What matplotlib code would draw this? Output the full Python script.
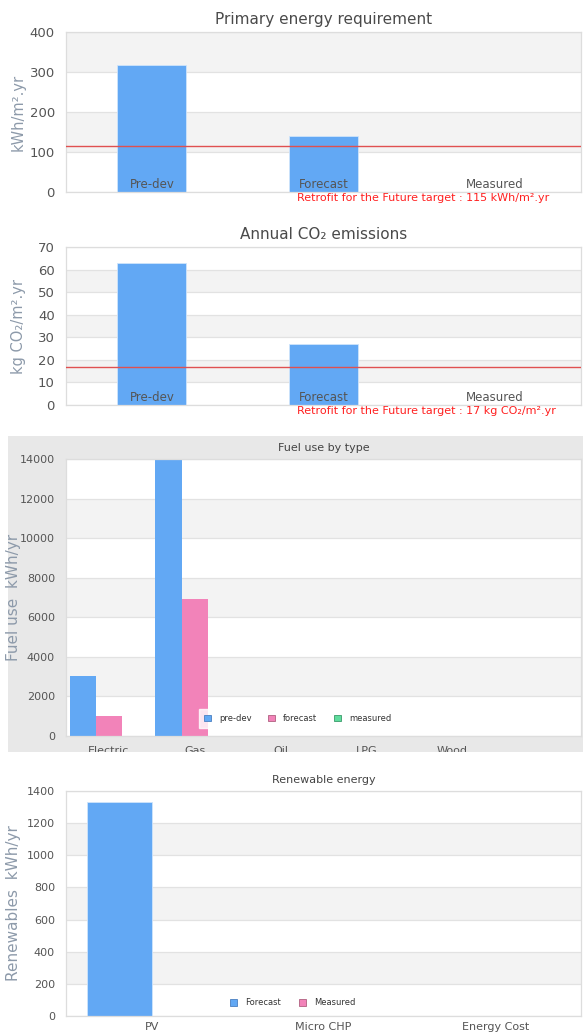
import matplotlib
matplotlib.use("Agg")
import matplotlib.pyplot as plt
from matplotlib.patches import Patch, Rectangle
import numpy as np

plt.rcParams['font.family'] = ['DejaVu Sans']

# ---- data ----
stage_labels = ["Pre-dev", "Forecast", "Measured"]
primary_energy = [318, 140, 0]
primary_target = 115
co2_emissions = [63, 27, 0]
co2_target = 17

fuel_types = ["Electric", "Gas", "Oil", "LPG", "Wood", ""]
fuel_predev = [3030, 14000, 0, 0, 0, 0]
fuel_forecast = [1000, 6900, 0, 0, 0, 0]
fuel_measured = [0, 0, 0, 0, 0, 0]

renew_types = ["PV", "Micro CHP", "Energy Cost"]
renew_forecast = [1330, 0, 0]
renew_measured = [0, 0, 0]

BLUE = "#62a8f4"
PINK = "#f283b9"
GREEN = "#5fdc9d"
GRID = "#e2e2e2"
BAND = "#f3f3f3"
TICK = "#555555"
YLAB = "#8d9aaa"

W, H = 587, 1036
fig = plt.figure(figsize=(W / 100, H / 100), dpi=100)
fig.patch.set_facecolor("white")


def ax_at(x0, y0, x1, y1):
    return fig.add_axes([x0 / W, 1 - y1 / H, (x1 - x0) / W, (y1 - y0) / H])


def style(ax, ymax, step, gray_first_from_top, fs):
    ax.set_ylim(0, ymax)
    ticks = np.arange(0, ymax + step / 2, step)
    ax.set_yticks(ticks)
    nb = len(ticks) - 1
    for i in range(nb):
        top = ymax - i * step
        gray = (i % 2 == 0) == gray_first_from_top
        if gray:
            ax.axhspan(top - step, top, color=BAND, zorder=0, lw=0)
    for t in ticks:
        ax.axhline(t, color=GRID, lw=0.9, zorder=0.5)
    for s in ax.spines.values():
        s.set_color("#dddddd")
        s.set_linewidth(0.9)
    ax.tick_params(axis="y", length=0, labelsize=fs, colors=TICK, pad=8)
    ax.tick_params(axis="x", length=0)
    ax.set_facecolor("white")


def stage_panel(y0, y1, vals, target, ymax, step, title, ylabel, tgt_text, gray_top):
    ax = ax_at(66, y0, 581, y1)
    style(ax, ymax, step, gray_top, 9.5)
    x = np.arange(len(stage_labels))
    ax.bar(x, vals, width=0.4, color=BLUE, edgecolor="#cfe4fb", linewidth=0.6, zorder=2)
    ax.set_xlim(-0.5, len(stage_labels) - 0.5)
    ax.set_xticks([])
    ax.axhline(target, color="#e05050", lw=1.0, zorder=3)
    for i, lab in enumerate(stage_labels):
        ax.text(i, 0.045, lab, transform=ax.get_xaxis_transform(), ha="center", va="center",
                fontsize=8.5, color="#555555", zorder=4)
    ax.text(0.4485, -0.04, tgt_text, transform=ax.transAxes, ha="left", va="center",
            fontsize=8, color="#ff2020")
    ax.set_title(title, fontsize=11, color="#4a4a4a", pad=6)
    ax.set_ylabel(ylabel, fontsize=10.5, color=YLAB)
    ax.yaxis.set_label_coords(-0.078, 0.5)
    return ax


stage_panel(32, 192, primary_energy, primary_target, 400, 100,
            "Primary energy requirement", "kWh/m².yr",
            "Retrofit for the Future target : 115 kWh/m².yr", True)
stage_panel(247, 405, co2_emissions, co2_target, 70, 10,
            "Annual CO₂ emissions", "kg CO₂/m².yr",
            "Retrofit for the Future target : 17 kg CO₂/m².yr", False)

# ---- Fuel use panel ----
fig.patches.append(Rectangle((8 / W, 1 - 752 / H), 575 / W, 316 / H,
                             transform=fig.transFigure, facecolor="#e8e8e8",
                             edgecolor="none", zorder=-1))
ax3 = ax_at(66, 459, 581, 736)
style(ax3, 14000, 2000, False, 8)
x = np.arange(len(fuel_types))
bw = 0.305
ax3.bar(x - bw, fuel_predev, width=bw, color=BLUE, zorder=2)
ax3.bar(x, fuel_forecast, width=bw, color=PINK, zorder=2)
ax3.bar(x + bw, fuel_measured, width=bw, color=GREEN, zorder=2)
ax3.set_xlim(-0.5, len(fuel_types) - 0.5)
ax3.set_xticks(x)
ax3.set_xticklabels(fuel_types, fontsize=8, color=TICK)
ax3.tick_params(axis="x", pad=7)
ax3.set_title("Fuel use by type", fontsize=8, color="#444444", pad=6)
ax3.set_ylabel("Fuel use  kWh/yr", fontsize=11, color=YLAB)
ax3.yaxis.set_label_coords(-0.087, 0.5)
h3 = [Patch(facecolor=BLUE, edgecolor="#4a7fc0", lw=0.6),
      Patch(facecolor=PINK, edgecolor="#b06080", lw=0.6),
      Patch(facecolor=GREEN, edgecolor="#3a9a6a", lw=0.6)]
leg3 = ax3.legend(h3, ["pre-dev", "forecast", "measured"], loc="lower left",
                  bbox_to_anchor=(0.258, 0.03), ncol=3, fontsize=6, frameon=True,
                  handlelength=0.8, handleheight=0.8, columnspacing=2.0, handletextpad=1.0,
                  borderaxespad=0, fancybox=False, borderpad=0.6)
leg3.get_frame().set_facecolor("white")
leg3.get_frame().set_edgecolor("white")
leg3.set_zorder(5)
for t in leg3.get_texts():
    t.set_color("#333333")
# clip labels under the grey box like the reference
fig.patches.append(Rectangle((0, 1 - 760 / H), 1, 8 / H, transform=fig.transFigure,
                             facecolor="white", edgecolor="none", zorder=10))

# ---- Renewable panel ----
ax4 = ax_at(66, 791, 581, 1016)
style(ax4, 1400, 200, False, 8)
x = np.arange(len(renew_types))
bw4 = 0.378
ax4.bar(x - bw4 / 2, renew_forecast, width=bw4, color=BLUE, edgecolor="#cfe4fb",
        linewidth=0.6, zorder=2)
ax4.bar(x + bw4 / 2, renew_measured, width=bw4, color=PINK, zorder=2)
ax4.set_xlim(-0.5, len(renew_types) - 0.5)
ax4.set_xticks(x)
ax4.set_xticklabels(renew_types, fontsize=8, color=TICK)
ax4.tick_params(axis="x", pad=4)
ax4.set_title("Renewable energy", fontsize=8, color="#444444", pad=6)
ax4.set_ylabel("Renewables  kWh/yr", fontsize=11, color=YLAB)
ax4.yaxis.set_label_coords(-0.087, 0.5)
h4 = [Patch(facecolor=BLUE, edgecolor="#4a7fc0", lw=0.6),
      Patch(facecolor=PINK, edgecolor="#b06080", lw=0.6)]
leg4 = ax4.legend(h4, ["Forecast", "Measured"], loc="center", bbox_to_anchor=(0.44, 0.058),
                  ncol=2, fontsize=6, frameon=False, handlelength=0.8, handleheight=0.8,
                  columnspacing=2.2, handletextpad=1.0)
for t in leg4.get_texts():
    t.set_color("#333333")

fig.savefig("out.png", dpi=100)
